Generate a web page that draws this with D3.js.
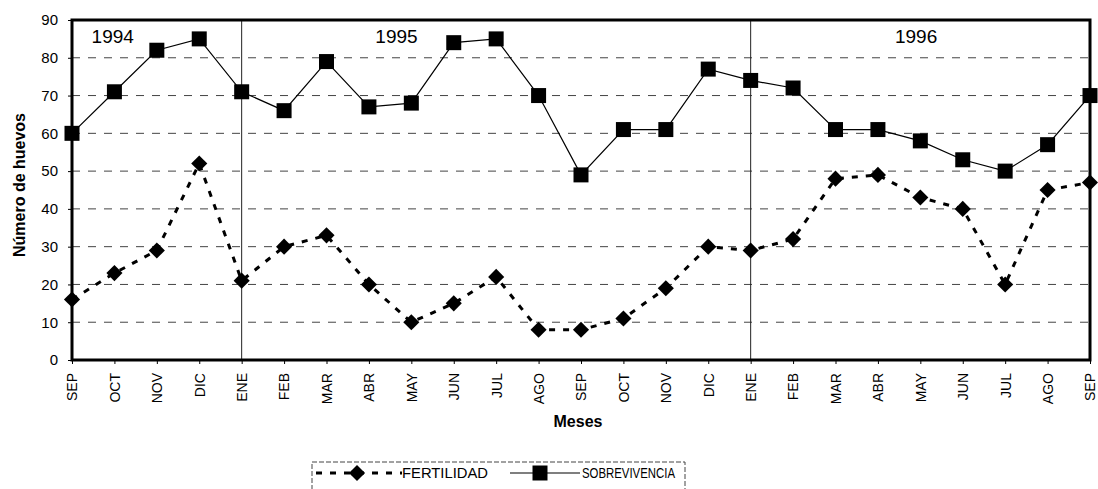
<!DOCTYPE html>
<html>
<head>
<meta charset="utf-8">
<script src="https://cdn.jsdelivr.net/npm/d3@7"></script>
<style>
  body { margin: 0; background: #fff; }
  text { font-family: "Liberation Sans", Arial, sans-serif; }
</style>
</head>
<body>
<div id="chart"></div>
<script>
// month labels, Sep 1994 .. Sep 1996
var months = ["SEP","OCT","NOV","DIC","ENE","FEB","MAR","ABR","MAY","JUN","JUL","AGO",
              "SEP","OCT","NOV","DIC","ENE","FEB","MAR","ABR","MAY","JUN","JUL","AGO","SEP"];
var fertilidad = [16,23,29,52,21,30,33,20,10,15,22,8,8,11,19,30,29,32,48,49,43,40,20,45,47];
var sobrevivencia = [60,71,82,85,71,66,79,67,68,84,85,70,49,61,61,77,74,72,61,61,58,53,50,57,70];
var yearLabels = ["1994","1995","1996"];
var yearAt = [0.96, 7.65, 19.9];   // where the year label sits, in month index
var yearBreaks = [4, 16];          // ENE of each new year
var yTicks = [0,10,20,30,40,50,60,70,80,90];

var W = 1098, H = 489;
var margin = {top: 20, right: 8, bottom: 129, left: 72},
    width = W - margin.left - margin.right,
    height = H - margin.top - margin.bottom;

var svg = d3.select("#chart").append("svg")
    .attr("width", W).attr("height", H);
var g = svg.append("g")
    .attr("transform", "translate(" + margin.left + "," + margin.top + ")");

var x = d3.scaleLinear().domain([0, months.length - 1]).range([0, width]);
var y = d3.scaleLinear().domain([0, 90]).range([height, 0]);

// dashed grid
g.append("g").selectAll("line")
  .data(yTicks.slice(1, -1))
  .enter().append("line")
    .attr("x1", 0).attr("x2", width)
    .attr("y1", d => y(d)).attr("y2", d => y(d))
    .attr("stroke", "#444").attr("stroke-width", 1)
    .attr("stroke-dasharray", "8,8");

// year separators
g.selectAll(".sep")
  .data(yearBreaks)
  .enter().append("line")
    .attr("x1", d => x(d)).attr("x2", d => x(d))
    .attr("y1", 0).attr("y2", height)
    .attr("stroke", "#222").attr("stroke-width", 1);

// year labels
g.selectAll(".yr")
  .data(yearLabels)
  .enter().append("text")
    .attr("x", (d, i) => x(yearAt[i]))
    .attr("y", 23)
    .attr("text-anchor", "middle")
    .style("font-size", "19px")
    .text(d => d);

// y axis
var yAxis = g.append("g")
  .call(d3.axisLeft(y).tickValues(yTicks).tickSize(4).tickPadding(10));
yAxis.select(".domain").remove();
yAxis.selectAll("text").style("font-size", "15px").style("font-family", "Liberation Sans, Arial, sans-serif");

// x axis
var xAxis = g.append("g")
  .attr("transform", "translate(0," + height + ")")
  .call(d3.axisBottom(x).tickValues(d3.range(months.length))
        .tickFormat(i => months[i]).tickSize(4).tickPadding(0));
xAxis.select(".domain").remove();
xAxis.selectAll("text")
  .style("font-size", "14px")
  .style("font-family", "Liberation Sans, Arial, sans-serif")
  .attr("transform", "rotate(-90)")
  .attr("x", -13).attr("y", 0).attr("dy", "0.35em")
  .style("text-anchor", "end");

// frame
g.append("rect")
  .attr("x", 0).attr("y", 0).attr("width", width).attr("height", height)
  .attr("fill", "none").attr("stroke", "#000").attr("stroke-width", 3);

// lines
var line = d3.line().x((d, i) => x(i)).y(d => y(d));

g.append("path").datum(sobrevivencia)
  .attr("d", line).attr("fill", "none")
  .attr("stroke", "#000").attr("stroke-width", 1.2);

g.append("path").datum(fertilidad)
  .attr("d", line).attr("fill", "none")
  .attr("stroke", "#000").attr("stroke-width", 3)
  .attr("stroke-dasharray", "6,8");

// markers
var sq = d3.symbol().type(d3.symbolSquare).size(225);
var dm = d3.symbol().type(d3.symbolSquare).size(130);   // rotated 45 -> diamond

g.append("g").selectAll("path")
  .data(sobrevivencia).enter().append("path")
    .attr("d", sq)
    .attr("transform", (d, i) => "translate(" + x(i) + "," + y(d) + ")")
    .attr("fill", "#000");

g.append("g").selectAll("path")
  .data(fertilidad).enter().append("path")
    .attr("d", dm)
    .attr("transform", (d, i) => "translate(" + x(i) + "," + y(d) + ") rotate(45)")
    .attr("fill", "#000");

// axis titles
svg.append("text")
  .attr("transform", "translate(25," + 185 + ") rotate(-90)")
  .attr("text-anchor", "middle")
  .style("font-size", "16px").style("font-weight", "bold")
  .text("Número de huevos");

svg.append("text")
  .attr("x", 578).attr("y", 427)
  .attr("text-anchor", "middle")
  .style("font-size", "16px").style("font-weight", "bold")
  .text("Meses");

// legend
var lg = svg.append("g").attr("transform", "translate(312,462)");
lg.append("rect")
  .attr("x", 0).attr("y", 0).attr("width", 373).attr("height", 40)
  .attr("fill", "none").attr("stroke", "#444").attr("stroke-width", 1)
  .attr("stroke-dasharray", "5,2");
lg.append("line").attr("x1", 4).attr("x2", 90).attr("y1", 11).attr("y2", 11)
  .attr("stroke", "#000").attr("stroke-width", 3).attr("stroke-dasharray", "6,8");
lg.append("path").attr("d", dm).attr("transform", "translate(45,11) rotate(45)").attr("fill", "#000");
lg.append("text").attr("x", 90).attr("y", 16).style("font-size", "14px")
  .attr("textLength", 86).attr("lengthAdjust", "spacingAndGlyphs").text("FERTILIDAD");
lg.append("line").attr("x1", 198).attr("x2", 268).attr("y1", 11).attr("y2", 11)
  .attr("stroke", "#000").attr("stroke-width", 1.2);
lg.append("path").attr("d", sq).attr("transform", "translate(228,11)").attr("fill", "#000");
lg.append("text").attr("x", 270).attr("y", 16).style("font-size", "14px")
  .attr("textLength", 93).attr("lengthAdjust", "spacingAndGlyphs").text("SOBREVIVENCIA");
</script>
</body>
</html>
